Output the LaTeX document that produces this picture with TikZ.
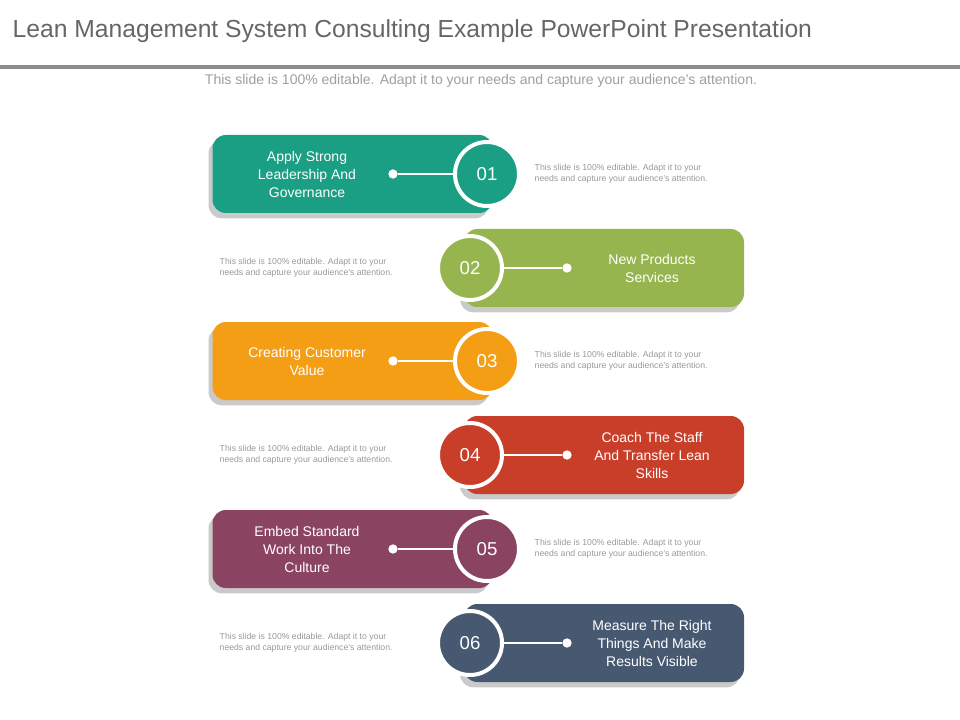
\documentclass[tikz,border=0pt]{standalone}
\usepackage{fontspec}
\setmainfont{Liberation Sans}
\usetikzlibrary{shadows}
\definecolor{c1}{HTML}{1A9E84}
\definecolor{c2}{HTML}{97B54F}
\definecolor{c3}{HTML}{F49E16}
\definecolor{c4}{HTML}{C93E28}
\definecolor{c5}{HTML}{8A4462}
\definecolor{c6}{HTML}{475971}
\tikzset{
 bar/.style={rounded corners=10pt, minimum width=210pt, minimum height=58.5pt, inner sep=0pt,
   drop shadow={shadow xshift=-3pt, shadow yshift=-4pt, fill=black!35, opacity=.6}},
 num/.style={circle, draw=white, line width=3pt, minimum size=48pt, text=white, font=\fontsize{14}{16}\selectfont},
 lbl/.style={text=white, align=center, font=\fontsize{10.5}{13.5}\selectfont},
 desc/.style={text=black!40, align=left, font=\fontsize{6.5}{8.5}\selectfont, anchor=west},
 dot/.style={circle, fill=white, minimum size=7pt, inner sep=0pt},
 link/.style={white, line width=1.3pt}
}
\begin{document}
\begin{tikzpicture}[x=0.75pt,y=-0.75pt]
\useasboundingbox (0,0) rectangle (960,720);
\node[anchor=west, text=black!60, font=\fontsize{18.5}{20}\selectfont] (title) at (8,31) {Lean Management System Consulting Example PowerPoint Presentation};
\draw[black!45, line width=2.5pt] (0,67) -- (960,67);
\node[text=black!38, font=\fontsize{10.5}{12}\selectfont] (sub) at (481,81) {This slide is 100\% editable. Adapt it to your needs and capture your audience’s attention.};
\foreach \i/\y/\c/\t in {1/174/c1/{Apply Strong\\Leadership And\\Governance},3/361/c3/{Creating Customer\\Value},5/549/c5/{Embed Standard\\Work Into The\\Culture}}{
 \node[bar, fill=\c] (b\i) at (352.5,\y) {};
 \node[num, fill=\c] (n\i) at (487,\y) {0\i};
 \node[dot] (d\i) at (393,\y) {};
 \draw[link] (d\i) -- (n\i);
 \node[lbl] (l\i) at (307,\y) {\t};
 \node[desc] (t\i) at (530,\y) {This slide is 100\% editable.  Adapt it to your\\needs and capture your audience’s attention.};
}
\foreach \i/\y/\c/\t in {2/268/c2/{New Products\\Services},4/455/c4/{Coach The Staff\\And Transfer Lean\\Skills},6/643/c6/{Measure The Right\\Things And Make\\Results Visible}}{
 \node[bar, fill=\c] (b\i) at (604,\y) {};
 \node[num, fill=\c] (n\i) at (470,\y) {0\i};
 \node[dot] (d\i) at (567,\y) {};
 \draw[link] (n\i) -- (d\i);
 \node[lbl] (l\i) at (652,\y) {\t};
 \node[desc] (t\i) at (215,\y) {This slide is 100\% editable.  Adapt it to your\\needs and capture your audience’s attention.};
}
\end{tikzpicture}
\end{document}
